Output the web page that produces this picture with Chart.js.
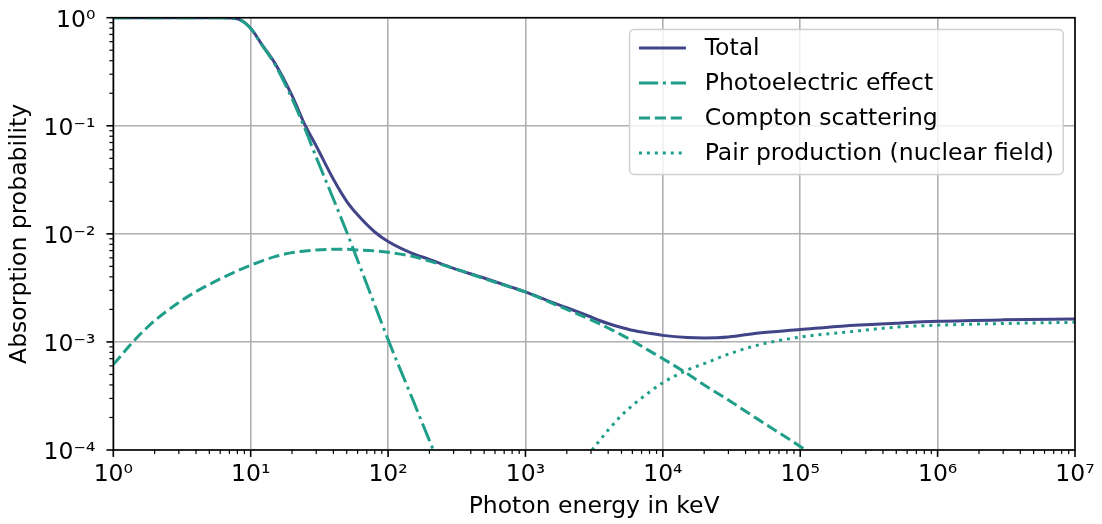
<!DOCTYPE html>
<html>
<head>
<meta charset="utf-8">
<script src="https://cdn.jsdelivr.net/npm/chart.js@4"></script>
<style>
    html, body { margin: 0; padding: 0; background: #fff; }
</style>
</head>
<body>
<canvas id="absorptionChart" width="1102" height="524"></canvas>
<script>
// photon energy in keV
const energies = [1, 1.5, 2, 3, 4, 5, 6, 8, 10, 12, 15, 20, 25, 30, 40, 50, 60, 80, 100, 150, 200, 300, 500, 800,
    1000, 1500, 2000, 3000, 3500, 4000, 5000, 6000, 8000, 1e4, 1.5e4, 2e4, 3e4, 5e4, 1e5, 2e5, 5e5, 1e6, 3e6, 1e7];

const total = [1.0, 1.0, 1.0, 1.0, 1.0, 1.0, 0.998, 0.975, 0.80, 0.57, 0.38, 0.19, 0.10, 0.065, 0.032, 0.020, 0.015, 0.0104, 0.0085, 0.0066, 0.0058, 0.0048, 0.0039, 0.0032,
    0.0029, 0.00237, 0.00207, 0.0017, 0.00157, 0.00148, 0.00136, 0.00128, 0.0012, 0.00115, 0.0011, 0.00109, 0.00111, 0.00121, 0.0013, 0.0014, 0.00149, 0.00155, 0.0016, 0.00163];

const photoelectric = [1.0, 1.0, 1.0, 1.0, 1.0, 0.999, 0.997, 0.974, 0.795, 0.565, 0.37, 0.178, 0.092, 0.051, 0.021, 0.0104, 0.0057, 0.0022, 0.00105, 0.0003, 0.000122, 0.000035, null, null,
    null, null, null, null, null, null, null, null, null, null, null, null, null, null, null, null, null, null, null, null];

const compton = [0.000617, 0.00111, 0.00157, 0.00232, 0.00292, 0.0034, 0.00383, 0.00455, 0.00513, 0.0056, 0.00615, 0.0067, 0.00695, 0.0071, 0.0072, 0.0072, 0.0071, 0.00695, 0.00675, 0.0062, 0.0056, 0.0048, 0.00385, 0.00318,
    0.0029, 0.00233, 0.002, 0.0016, 0.00146, 0.001346, 0.001164, 0.001026, 0.000826, 0.0007, 0.00051, 0.0004, 0.00029, 0.00019, 0.000108, 0.00006, null, null, null, null];

const pairProduction = [null, null, null, null, null, null, null, null, null, null, null, null, null, null, null, null, null, null, null, null, null, null, null, null,
    null, null, 0.00002, 0.000095, 0.000124, 0.000153, 0.000209, 0.000258, 0.000344, 0.00042, 0.000547, 0.00063, 0.00077, 0.00094, 0.00111, 0.00122, 0.00137, 0.00143, 0.00148, 0.00152];

// tick labels, indexed by exponent
const xTickLabels = ["10\u2070", "10\u00b9", "10\u00b2", "10\u00b3", "10\u2074", "10\u2075", "10\u2076", "10\u2077"];
const yTickLabels = ["10\u207b\u2074", "10\u207b\u00b3", "10\u207b\u00b2", "10\u207b\u00b9", "10\u2070"]; // 1e-4 .. 1e0

const NAVY = "#414487";
const TEAL = "#1f9e89";
const FONT_SIZE = 23.5;

Chart.defaults.font.family = "'DejaVu Sans', sans-serif";
Chart.defaults.font.size = FONT_SIZE;
Chart.defaults.color = "#000";

function toPoints(values) {
    return energies.map((e, i) => ({ x: e, y: values[i] }));
}

function exponentOf(value) {
    let e = Math.log10(value);
    let r = Math.round(e);
    return Math.abs(e - r) < 1e-6 ? r : null;
}

// one tick per 1..9 x 10^n, like matplotlib's log locator
function decadeTicks(scale, lo, hi) {
    let ticks = [];
    for (let e = lo; e <= hi; e++) {
        for (let m = 1; m <= 9; m++) {
            if (e === hi && m > 1) break;
            ticks.push({ value: m * Math.pow(10, e), major: m === 1 });
        }
    }
    scale.ticks = ticks;
}

function gridColor(ctx) {
    return ctx.tick && ctx.tick.major ? "#b0b0b0" : "rgba(0,0,0,0)";
}

// frame on all four sides plus outward ticks (major and minor)
const framePlugin = {
    id: "frame",
    afterDatasetsDraw(chart) {
        let { ctx, chartArea: a, scales } = chart;
        ctx.save();
        ctx.strokeStyle = "#000";
        ctx.setLineDash([]);
        scales.x.ticks.forEach(t => {
            let px = scales.x.getPixelForValue(t.value);
            ctx.lineWidth = t.major ? 1.6 : 1.2;
            ctx.beginPath();
            ctx.moveTo(px, a.bottom);
            ctx.lineTo(px, a.bottom + (t.major ? 6.9 : 3.9));
            ctx.stroke();
        });
        scales.y.ticks.forEach(t => {
            let py = scales.y.getPixelForValue(t.value);
            ctx.lineWidth = t.major ? 1.6 : 1.2;
            ctx.beginPath();
            ctx.moveTo(a.left, py);
            ctx.lineTo(a.left - (t.major ? 6.9 : 3.9), py);
            ctx.stroke();
        });
        ctx.lineWidth = 1.6;
        ctx.strokeRect(a.left, a.top, a.right - a.left, a.bottom - a.top);
        ctx.restore();
    }
};

// matplotlib-style boxed legend in the upper right corner
const boxLegendPlugin = {
    id: "boxLegend",
    afterDraw(chart) {
        let { ctx, chartArea: a } = chart;
        let items = chart.data.datasets;
        ctx.save();
        ctx.font = FONT_SIZE + "px 'DejaVu Sans'";
        let textW = Math.max(...items.map(d => ctx.measureText(d.label).width));
        let pad = 0.4 * FONT_SIZE, handle = 2 * FONT_SIZE, gap = 0.8 * FONT_SIZE, rowH = 35;
        let w = pad * 2 + handle + gap + textW;
        let h = 145;
        let right = a.right - 0.5 * FONT_SIZE;
        let left = right - w;
        let top = a.top + 0.5 * FONT_SIZE;

        ctx.beginPath();
        ctx.roundRect(left, top, w, h, 4.7);
        ctx.fillStyle = "rgba(255,255,255,0.8)";
        ctx.fill();
        ctx.strokeStyle = "#d0d0d0";
        ctx.lineWidth = 1.5;
        ctx.stroke();

        items.forEach((d, i) => {
            let y = top + 18.5 + i * rowH;
            ctx.beginPath();
            ctx.setLineDash(d.borderDash || []);
            ctx.strokeStyle = d.borderColor;
            ctx.lineWidth = d.borderWidth;
            ctx.moveTo(left + pad, y);
            ctx.lineTo(left + pad + handle, y);
            ctx.stroke();
            ctx.setLineDash([]);
            ctx.fillStyle = "#000";
            ctx.textBaseline = "middle";
            ctx.textAlign = "left";
            ctx.fillText(d.label, left + pad + handle + gap, y + 1);
        });
        ctx.restore();
    }
};

new Chart(document.getElementById("absorptionChart"), {
    type: "line",
    data: {
        datasets: [
            {
                label: "Total",
                data: toPoints(total),
                borderColor: NAVY,
                borderWidth: 3,
                order: 1
            },
            {
                label: "Photoelectric effect",
                data: toPoints(photoelectric),
                borderColor: TEAL,
                borderWidth: 3,
                borderDash: [19.2, 4.8, 3, 4.8]
            },
            {
                label: "Compton scattering",
                data: toPoints(compton),
                borderColor: TEAL,
                borderWidth: 3,
                borderDash: [11.1, 4.8]
            },
            {
                label: "Pair production (nuclear field)",
                data: toPoints(pairProduction),
                borderColor: TEAL,
                borderWidth: 3,
                borderDash: [3, 4.95]
            }
        ]
    },
    options: {
        responsive: false,
        animation: false,
        events: [],
        layout: {
            padding: { top: 17.7, right: 27, left: 0, bottom: 0 }
        },
        datasets: {
            line: {
                pointRadius: 0,
                fill: false,
                spanGaps: false,
                clip: 0,
                cubicInterpolationMode: "monotone",
                borderCapStyle: "butt"
            }
        },
        plugins: {
            legend: { display: false },
            tooltip: { enabled: false }
        },
        scales: {
            x: {
                type: "logarithmic",
                position: "bottom",
                min: 1,
                max: 1e7,
                afterBuildTicks: s => decadeTicks(s, 0, 7),
                afterFit: s => { s.height = 74; s.paddingLeft = 0; s.paddingRight = 0; },
                border: { display: false },
                grid: { color: gridColor, lineWidth: 1.6, drawTicks: false },
                ticks: {
                    autoSkip: false,
                    maxRotation: 0,
                    padding: 10.5,
                    callback: v => {
                        let e = exponentOf(v);
                        return e === null ? "" : xTickLabels[e];
                    }
                },
                title: {
                    display: true,
                    text: "Photon energy in keV",
                    padding: { top: 0, bottom: 3 }
                }
            },
            y: {
                type: "logarithmic",
                position: "left",
                min: 1e-4,
                max: 1,
                afterBuildTicks: s => decadeTicks(s, -4, 0),
                afterFit: s => { s.width = 113.3; s.paddingTop = 0; s.paddingBottom = 0; },
                border: { display: false },
                grid: { color: gridColor, lineWidth: 1.6, drawTicks: false },
                ticks: {
                    autoSkip: false,
                    padding: 18,
                    labelOffset: 3,
                    callback: v => {
                        let e = exponentOf(v);
                        return e === null ? "" : yTickLabels[e + 4];
                    }
                },
                title: {
                    display: true,
                    text: "Absorption probability",
                    padding: { top: 6, bottom: 0 }
                }
            }
        }
    },
    plugins: [framePlugin, boxLegendPlugin]
});
</script>
</body>
</html>
